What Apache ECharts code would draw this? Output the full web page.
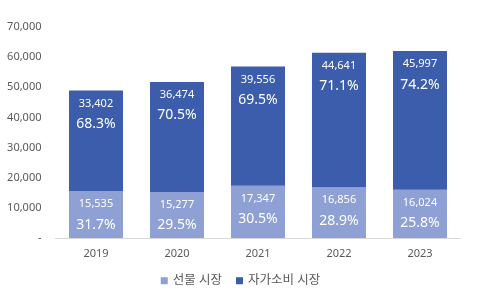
<!DOCTYPE html>
<html><head><meta charset="utf-8">
<script src="https://cdn.jsdelivr.net/npm/echarts@6/dist/echarts.min.js"></script>
<style>html,body{margin:0;padding:0;background:#fff}#c{width:481px;height:298px}</style>
</head><body><div id="c"></div>
<script>
const categories = ['2019','2020','2021','2022','2023'];
const giftValues = [15535, 15277, 17347, 16856, 16024];
const selfValues = [33402, 36474, 39556, 44641, 45997];
const giftPct = ['31.7%','29.5%','30.5%','28.9%','25.8%'];
const selfPct = ['68.3%','70.5%','69.5%','71.1%','74.2%'];
const seriesNames = ['선물 시장','자가소비 시장'];

const FONT = '"Noto Sans", "Noto Sans CJK KR", sans-serif';
const fmt = v => v.toLocaleString('en-US');
function lbl(pcts){
  return {
    show: true, position: 'insideTop', distance: 5,
    formatter: p => '{a|' + fmt(p.value) + '}\n{b|' + pcts[p.dataIndex] + '}',
    rich: {
      a: {color:'#fff', fontSize: 11, lineHeight: 16, fontFamily: FONT},
      b: {color:'#fff', fontSize: 14, lineHeight: 25, fontFamily: FONT}
    }
  };
}
const chart = echarts.init(document.getElementById('c'), null, {renderer:'canvas'});
chart.setOption({
  animation: false,
  textStyle: {fontFamily: FONT},
  grid: {left: 55.5, right: 20.5, top: 27, bottom: 60},
  legend: {
    bottom: 6, left: 'center', itemWidth: 7, itemHeight: 7, itemGap: 14,
    icon: 'rect',
    textStyle: {color:'#595959', fontSize: 12.5, fontFamily: FONT},
    data: seriesNames
  },
  xAxis: {
    type: 'category', data: categories,
    axisLine: {lineStyle: {color:'#D9D9D9'}},
    axisTick: {show: false},
    axisLabel: {color:'#595959', fontSize: 11, margin: 10}
  },
  yAxis: {
    type: 'value', min: 0, max: 70000, interval: 10000,
    splitLine: {show: false},
    axisLine: {show: false}, axisTick: {show: false},
    axisLabel: {color:'#595959', fontSize: 11, margin: 14,
      formatter: v => v === 0 ? '-' : fmt(v)}
  },
  series: [
    {name: seriesNames[0], type:'bar', stack:'t', data: giftValues, barWidth: 54,
     itemStyle:{color:'#8FA0D4'}, label: lbl(giftPct)},
    {name: seriesNames[1], type:'bar', stack:'t', data: selfValues, barWidth: 54,
     itemStyle:{color:'#3B5DAB'}, label: lbl(selfPct)}
  ]
});
</script></body></html>
